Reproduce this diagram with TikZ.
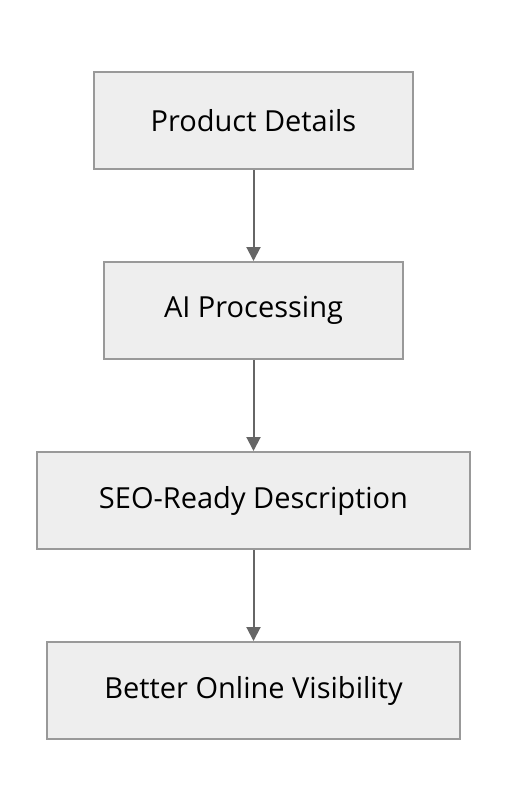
\documentclass[tikz,border=0pt]{standalone}
\usepackage{fontspec}
\setmainfont{Open Sans}
\usetikzlibrary{arrows.meta}
\definecolor{boxfill}{HTML}{EEEEEE}
\definecolor{boxline}{HTML}{999999}
\definecolor{arrowgray}{HTML}{666666}
\tikzset{
  stage/.style={draw=boxline, line width=2pt, fill=boxfill, minimum height=97pt, inner sep=0pt, font=\fontsize{29}{34}\selectfont},
  flow/.style={draw=arrowgray, line width=2pt, -{Triangle[length=14pt,width=14pt]}}
}
\begin{document}
\begin{tikzpicture}[x=1pt,y=-1pt]
  \useasboundingbox (0,0) rectangle (508,812);

  \node[stage, minimum width=319pt] (details) at (253.5,120.5) {Product Details};
  \node[stage, minimum width=299pt] (ai) at (253.5,310.5) {AI Processing};
  \node[stage, minimum width=433pt] (seo) at (253.5,500.5) {SEO-Ready Description};
  \node[stage, minimum width=413pt] (visibility) at (253.5,690.5) {Better Online Visibility};

  \draw[flow] (details) -- (ai);
  \draw[flow] (ai) -- (seo);
  \draw[flow] (seo) -- (visibility);
\end{tikzpicture}
\end{document}
